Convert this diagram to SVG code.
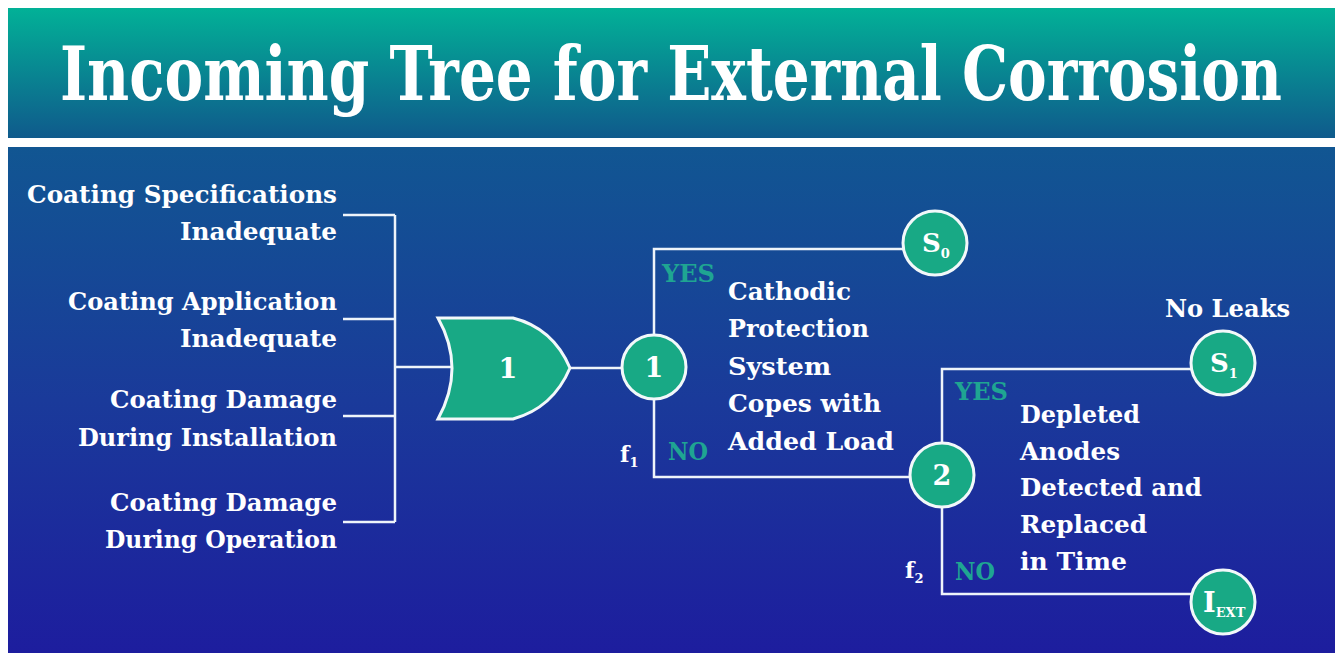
<svg xmlns="http://www.w3.org/2000/svg" width="1335" height="657" viewBox="0 0 1335 657">
<defs>
<linearGradient id="hdr" x1="0" y1="0" x2="0" y2="1">
<stop offset="0" stop-color="#02b197"/>
<stop offset="1" stop-color="#0f5a8c"/>
</linearGradient>
<linearGradient id="pnl" x1="0" y1="0" x2="0" y2="1">
<stop offset="0" stop-color="#115692"/>
<stop offset="0.5" stop-color="#1a3a9a"/>
<stop offset="1" stop-color="#1d1d9e"/>
</linearGradient>
<style>
.t{font-family:"DejaVu Serif","Liberation Serif",serif;font-weight:bold;fill:#ffffff}
.lbl{font-size:25px}
.yn{font-family:"DejaVu Serif","Liberation Serif",serif;font-weight:bold;fill:#1fa592;font-size:24px}
.ln{stroke:#eef4fa;stroke-width:2.5;fill:none}
.nd{fill:#18a985;stroke:#f2f8fa;stroke-width:3}
.nt{font-size:27px;text-anchor:middle}
.sub{font-size:13px}
</style>
</defs>
<rect x="0" y="0" width="1335" height="657" fill="#ffffff"/>
<rect x="8" y="8" width="1327" height="130" fill="url(#hdr)"/>
<rect x="8" y="147" width="1327" height="506" fill="url(#pnl)"/>
<text class="t" transform="translate(60,100) scale(1,1.5)" x="0" y="0" font-size="50" textLength="1222" lengthAdjust="spacingAndGlyphs">Incoming Tree for External Corrosion</text>

<g id="connectors">
<path class="ln" d="M343,215 H395 M343,319 H395 M343,416 H395 M343,522 H395 M395,215 V522 M395,367 H454"/>
<path class="ln" d="M570,368 H622"/>
<path class="ln" d="M654,335 V249 H903 M654,399 V477 H911"/>
<path class="ln" d="M942,443 V369 H1191 M942,507 V594 H1191"/>
</g>

<g id="inputs">
<g text-anchor="end" class="t lbl">
<text x="337" y="203" textLength="310" lengthAdjust="spacingAndGlyphs">Coating Specifications</text>
<text x="337" y="240" textLength="157" lengthAdjust="spacingAndGlyphs">Inadequate</text>
<text x="337" y="310" textLength="269" lengthAdjust="spacingAndGlyphs">Coating Application</text>
<text x="337" y="347" textLength="157" lengthAdjust="spacingAndGlyphs">Inadequate</text>
<text x="337" y="408" textLength="227" lengthAdjust="spacingAndGlyphs">Coating Damage</text>
<text x="337" y="446" textLength="259" lengthAdjust="spacingAndGlyphs">During Installation</text>
<text x="337" y="511" textLength="227" lengthAdjust="spacingAndGlyphs">Coating Damage</text>
<text x="337" y="548" textLength="232" lengthAdjust="spacingAndGlyphs">During Operation</text>
</g>
</g>

<g id="gate1">
<path class="nd" d="M438,318 L513,318 Q553,328 570,368 Q553,408 513,419 L438,419 Q466,368 438,318 Z"/>
<text class="t nt" x="508" y="378">1</text>
</g>

<g id="event1">
<circle class="nd" cx="654" cy="367" r="32"/>
<text class="t nt" x="654" y="377">1</text>
<text class="yn" x="662" y="282" textLength="53" lengthAdjust="spacingAndGlyphs">YES</text>
<text class="yn" x="668" y="460" textLength="40" lengthAdjust="spacingAndGlyphs">NO</text>
<text class="t" x="620" y="462" font-size="22">f<tspan class="sub" dy="5">1</tspan></text>
<g class="t lbl">
<text x="728" y="300" textLength="123" lengthAdjust="spacingAndGlyphs">Cathodic</text>
<text x="728" y="337" textLength="141" lengthAdjust="spacingAndGlyphs">Protection</text>
<text x="728" y="375" textLength="103" lengthAdjust="spacingAndGlyphs">System</text>
<text x="728" y="412" textLength="153" lengthAdjust="spacingAndGlyphs">Copes with</text>
<text x="728" y="450" textLength="166" lengthAdjust="spacingAndGlyphs">Added Load</text>
</g>
</g>

<g id="s0">
<circle class="nd" cx="935" cy="243" r="32"/>
<text class="t" x="922" y="252" font-size="26">S<tspan class="sub" dy="6">0</tspan></text>
</g>

<g id="event2">
<circle class="nd" cx="942" cy="475" r="32"/>
<text class="t nt" x="942" y="485">2</text>
<text class="yn" x="955" y="400" textLength="53" lengthAdjust="spacingAndGlyphs">YES</text>
<text class="yn" x="955" y="580" textLength="40" lengthAdjust="spacingAndGlyphs">NO</text>
<text class="t" x="905" y="578" font-size="22">f<tspan class="sub" dy="5">2</tspan></text>
<g class="t lbl">
<text x="1020" y="423" textLength="120" lengthAdjust="spacingAndGlyphs">Depleted</text>
<text x="1020" y="460" textLength="100" lengthAdjust="spacingAndGlyphs">Anodes</text>
<text x="1020" y="496" textLength="182" lengthAdjust="spacingAndGlyphs">Detected and</text>
<text x="1020" y="533" textLength="127" lengthAdjust="spacingAndGlyphs">Replaced</text>
<text x="1020" y="570" textLength="107" lengthAdjust="spacingAndGlyphs">in Time</text>
</g>
</g>

<g id="s1">
<circle class="nd" cx="1223" cy="363" r="32"/>
<text class="t" x="1210" y="372" font-size="26">S<tspan class="sub" dy="6">1</tspan></text>
<text class="t lbl" x="1165" y="317" textLength="125" lengthAdjust="spacingAndGlyphs">No Leaks</text>
</g>

<g id="iext">
<circle class="nd" cx="1223" cy="602" r="32"/>
<text class="t" x="1203" y="612" font-size="27">I<tspan class="sub" font-size="10" dy="5">EXT</tspan></text>
</g>
</svg>
